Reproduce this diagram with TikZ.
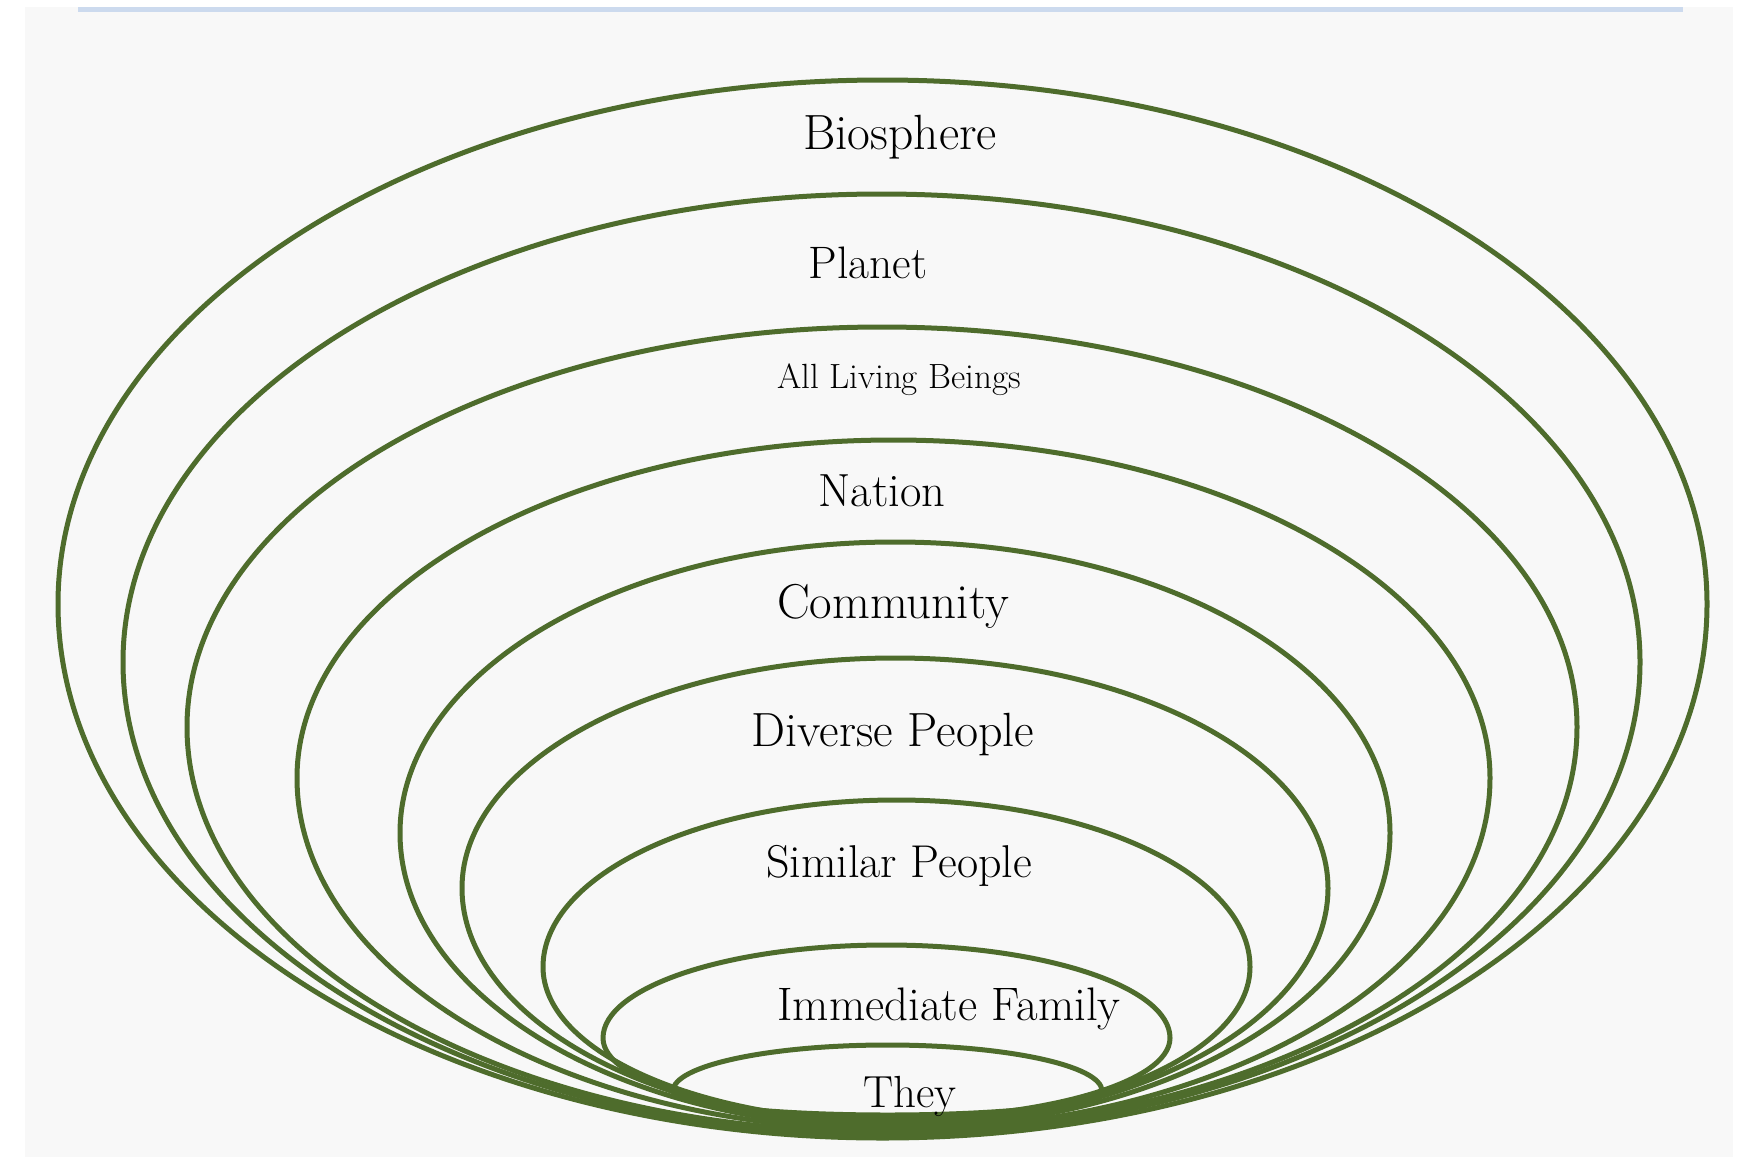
\documentclass[tikz,border=0pt]{standalone}
\usepackage{fontspec}
\usepackage{tikz}
\definecolor{vine}{RGB}{78,108,44}
\definecolor{paper}{RGB}{248,248,248}
\definecolor{rule}{RGB}{204,218,238}
\tikzset{
    ring/.style={draw=vine,line width=5pt,line join=round},
    tag/.style={anchor=base,inner sep=0pt,text=black}
}

\begin{document}
\begin{tikzpicture}[x=1pt,y=-1pt]
    \useasboundingbox (0,0) rectangle (1743,1157);
    \fill[white] (0,0) rectangle (1743,1157);
    \fill[paper] (25,7) rectangle (1733,1157);
    \fill[rule] (78,7) rectangle (1683,12);
    % rings from the outside in: centre x/y, half width, upper and lower half height
    \foreach \cx/\cy/\a/\bt/\bb in {
            882.5/604/824.5/524/534,
            881.5/662/758.5/468/473,
            882/727/695/400/405,
            893.5/778/596.5/338/352,
            895/833/495/291/295,
            895/888/433/230/237,
            896.5/967/353.5/167/155,
            886.5/1038/283.5/93/81,
            887.5/1091/214.5/46/24}
        \draw[ring] (\cx-\a,\cy)
            arc[start angle=180,end angle=360,x radius=\a,y radius=\bt]
            arc[start angle=0,end angle=180,x radius=\a,y radius=\bb] -- cycle;
    % labels
    \node[tag,font=\fontsize{49.5}{54}\selectfont] (bio) at (900,149) {Biosphere};
    \node[tag,font=\fontsize{45.5}{50}\selectfont] (planet) at (868,278) {Planet};
    \node[tag,font=\fontsize{35}{40}\selectfont] (beings) at (899,388) {All Living Beings};
    \node[tag,font=\fontsize{46.5}{50}\selectfont] (nation) at (882,506) {Nation};
    \node[tag,font=\fontsize{49}{54}\selectfont] (comm) at (893,618) {Community};
    \node[tag,font=\fontsize{48}{52}\selectfont] (diverse) at (893,746) {Diverse People};
    \node[tag,font=\fontsize{46}{50}\selectfont] (similar) at (899,877) {Similar People};
    \node[tag,font=\fontsize{47}{52}\selectfont] (family) at (949,1020) {Immediate Family};
    \node[tag,font=\fontsize{45}{50}\selectfont] (they) at (910,1107) {They};
\end{tikzpicture}
\end{document}
